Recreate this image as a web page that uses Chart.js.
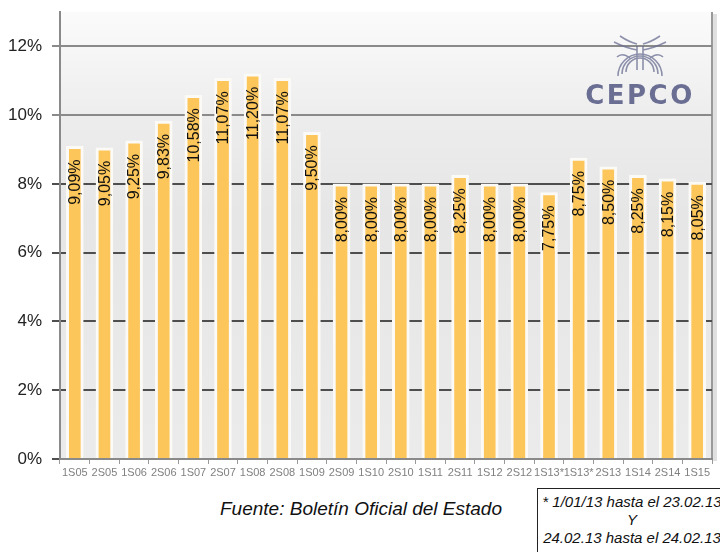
<!DOCTYPE html>
<html>
<head>
<meta charset="utf-8">
<script src="https://cdn.jsdelivr.net/npm/chart.js@4/dist/chart.umd.min.js"></script>
<style>
  body { margin: 0; width: 720px; height: 552px; overflow: hidden; background: #fff; position: relative; font-family: "Liberation Sans", sans-serif; }
  #caja { position: absolute; left: 0; top: 0; width: 720px; height: 480px; }
  #fuente { position: absolute; left: 220px; top: 498px; font-style: italic; font-size: 19px; color: #111; white-space: nowrap; }
  #nota { position: absolute; left: 537px; top: 488px; width: 190px; height: 70px; border: 1px solid #222; font-style: italic; font-size: 15px; line-height: 18px; text-align: center; color: #111; white-space: nowrap; padding-top: 4px; box-sizing: border-box; overflow: hidden; }
  #logo { position: absolute; left: 578px; top: 30px; }
</style>
</head>
<body>
<div id="caja"><canvas id="grafico" width="720" height="480"></canvas></div>
<svg id="logo" width="125" height="80" viewBox="0 0 125 80">
  <g fill="none" stroke="#6a6e92" stroke-width="1.6" opacity="0.75">
    <path d="M48 42 a14 14 0 0 1 28 0"/>
    <path d="M44 44 a18 18 0 0 1 36 0"/>
    <path d="M40 46 a22 22 0 0 1 44 0"/>
    <path d="M59 40 v-24 M65 40 v-24"/>
    <path d="M36 12 q12 6 23 8 M88 12 q-12 6 -23 8"/>
    <path d="M42 6 q9 6 17 8 M82 6 q-9 6 -17 8"/>
    <path d="M52 28 q-8 -6 -13 -1 M72 28 q8 -6 13 -1"/>
  </g>
  <text x="62" y="74" text-anchor="middle" font-family="DejaVu Sans" font-weight="bold" font-size="26" fill="#5c6089" letter-spacing="2.5" opacity="0.9">CEPCO</text>
</svg>
<div id="fuente">Fuente: Boletín Oficial del Estado</div>
<div id="nota">* 1/01/13 hasta el 23.02.13<br>Y<br>24.02.13 hasta el 24.02.13</div>
<script>
var periodos = ['1S05', '2S05', '1S06', '2S06', '1S07', '2S07', '1S08', '2S08', '1S09', '2S09', '1S10',
    '2S10', '1S11', '2S11', '1S12', '2S12', '1S13*', '1S13*', '2S13', '1S14', '2S14', '1S15'];
var tipos = [9.09, 9.05, 9.25, 9.83, 10.58, 11.07, 11.20, 11.07, 9.50, 8.00, 8.00,
    8.00, 8.00, 8.25, 8.00, 8.00, 7.75, 8.75, 8.50, 8.25, 8.15, 8.05];
var marcasY = [0, 2, 4, 6, 8, 10, 12];

// fondo degradado y borde derecho del area
var fondo = {
    id: 'fondo',
    beforeDraw: function (chart) {
        var a = chart.chartArea;
        var ctx = chart.ctx;
        var g = ctx.createLinearGradient(0, a.top, 0, a.bottom);
        g.addColorStop(0, '#fbfbfb');
        g.addColorStop(0.25, '#ececec');
        g.addColorStop(0.45, '#e6e6e6');
        g.addColorStop(1, '#ebebeb');
        ctx.save();
        ctx.fillStyle = g;
        ctx.fillRect(a.left, a.top, a.right - a.left, a.bottom - a.top);
        ctx.strokeStyle = '#9a9a9a';
        ctx.lineWidth = 2;
        ctx.beginPath();
        ctx.moveTo(a.right, a.top);
        ctx.lineTo(a.right, a.bottom);
        ctx.stroke();
        ctx.strokeStyle = 'rgba(0,0,0,0.12)';
        ctx.lineWidth = 4;
        ctx.beginPath();
        ctx.moveTo(a.right + 3, a.top + 2);
        ctx.lineTo(a.right + 3, a.bottom + 2);
        ctx.stroke();
        ctx.restore();
    }
};

// etiquetas verticales dentro de cada barra
var etiquetas = {
    id: 'etiquetas',
    afterDatasetsDraw: function (chart) {
        var ctx = chart.ctx;
        var meta = chart.getDatasetMeta(0);
        ctx.save();
        ctx.font = '16px "Liberation Sans"';
        ctx.fillStyle = '#111';
        ctx.textAlign = 'right';
        ctx.textBaseline = 'middle';
        meta.data.forEach(function (barra, i) {
            var txt = tipos[i].toFixed(2).replace('.', ',') + '%';
            ctx.save();
            ctx.translate(barra.x + 1, barra.y + 13);
            ctx.rotate(-Math.PI / 2);
            ctx.fillText(txt, 0, 0);
            ctx.restore();
        });
        ctx.restore();
    }
};

new Chart(document.getElementById('grafico'), {
    type: 'bar',
    data: {
        labels: periodos,
        datasets: [{
            data: tipos,
            backgroundColor: '#fcc65a',
            borderColor: '#fbfaf6',
            borderWidth: 3,
            borderSkipped: 'bottom',
            barThickness: 17
        }]
    },
    options: {
        responsive: false,
        animation: false,
        layout: { padding: { top: 12, right: 8, left: 0, bottom: 0 } },
        plugins: { legend: { display: false }, tooltip: { enabled: false } },
        scales: {
            y: {
                min: 0,
                max: 13,
                afterFit: function (s) { s.width = 60; s.paddingTop = 0; s.paddingBottom = 0; },
                afterBuildTicks: function (s) {
                    s.ticks = marcasY.map(function (v) { return { value: v }; });
                },
                ticks: {
                    callback: function (v) { return v + '%'; },
                    font: { family: 'Liberation Sans', size: 17 },
                    color: '#222',
                    padding: 10
                },
                grid: {
                    color: function (c) { return c.tick && c.tick.value >= 10 ? '#8a8a8a' : '#4e4e4e'; },
                    lineWidth: 2,
                    tickLength: 8
                },
                border: { color: '#8a8a8a', width: 2 }
            },
            x: {
                afterFit: function (s) { s.height = 21; s.paddingLeft = 0; s.paddingRight = 0; },
                ticks: {
                    autoSkip: false,
                    maxRotation: 0,
                    font: { family: 'Liberation Sans', size: 11 },
                    color: '#808080',
                    padding: 2
                },
                grid: { display: true, drawOnChartArea: false, tickLength: 5, color: '#999' },
                border: { color: '#8a8a8a', width: 2 }
            }
        }
    },
    plugins: [fondo, etiquetas]
});
</script>
</body>
</html>
